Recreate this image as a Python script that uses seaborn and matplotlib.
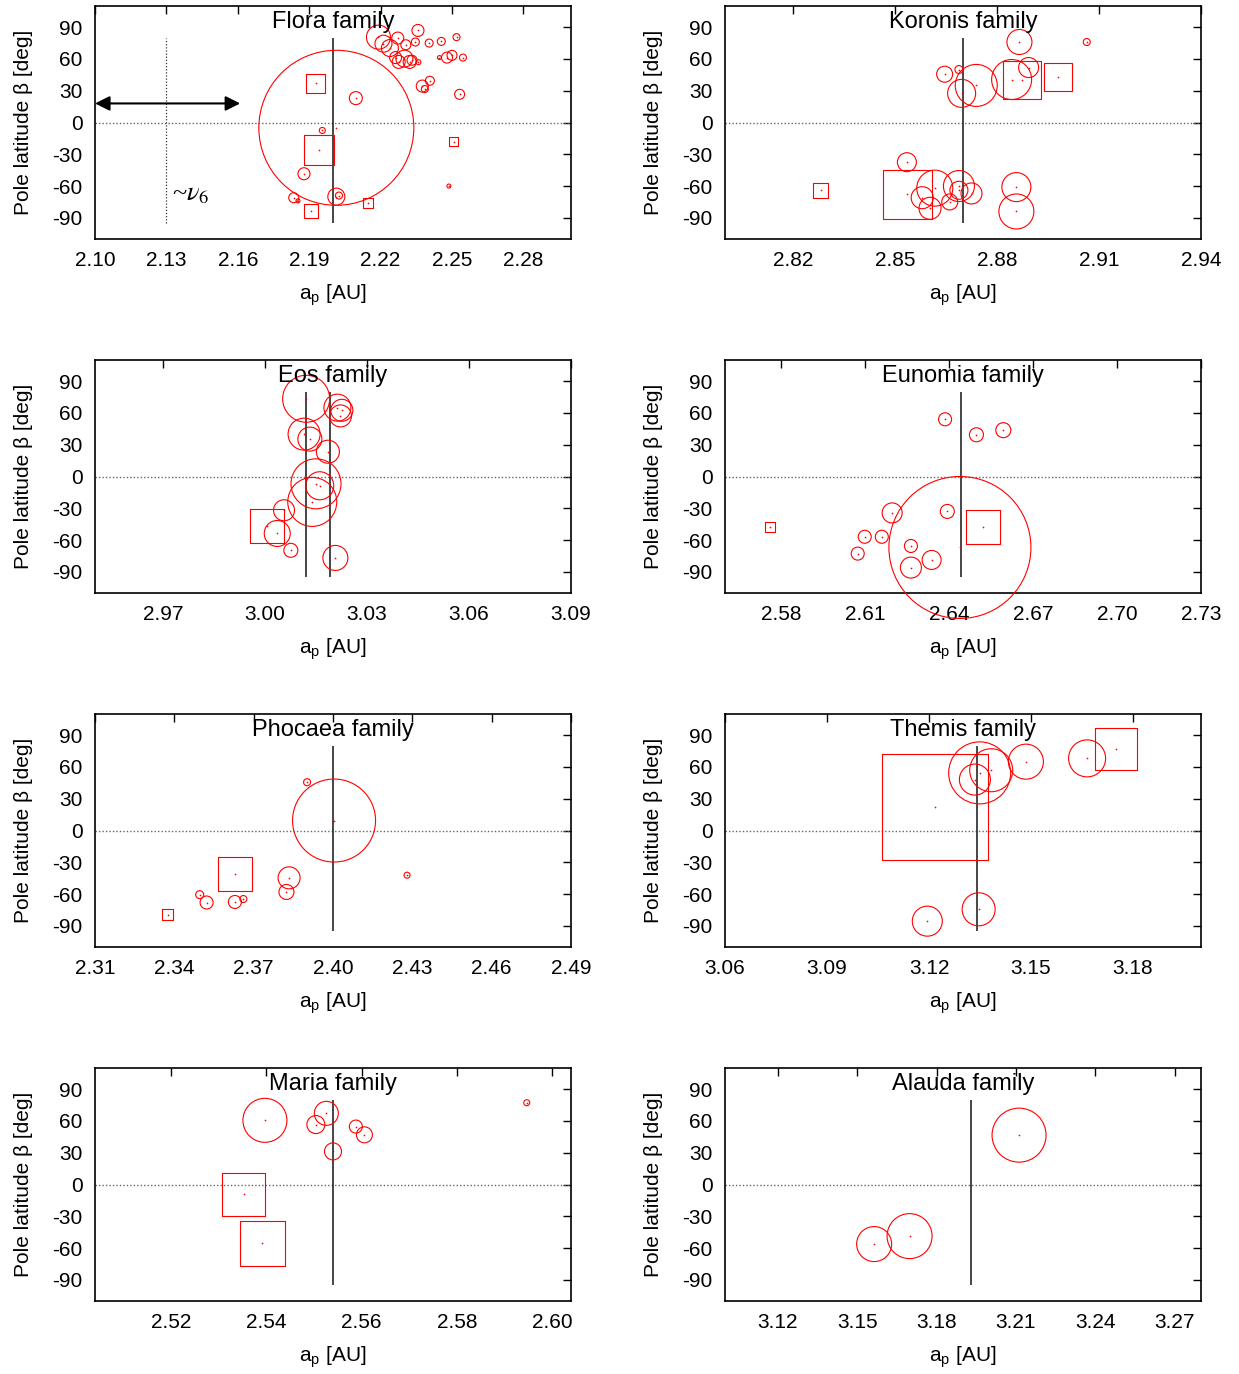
"""
Pole latitude vs proper semimajor axis for eight asteroid families.
Circles / squares sized by object, family centre marked by a vertical line.
"""
import numpy as np
import pandas as pd
import matplotlib
matplotlib.use("Agg")
import matplotlib.pyplot as plt
import seaborn as sns

sns.set_theme(style="white")
plt.rcParams["font.family"] = ["Liberation Sans", "DejaVu Sans"]
plt.rcParams.update({
    "axes.edgecolor": "black",
    "axes.linewidth": 1.2,
    "axes.unicode_minus": False,
    "text.color": "black",
    "axes.labelcolor": "black",
    "xtick.direction": "in",
    "ytick.direction": "in",
    "xtick.top": True,
    "ytick.right": True,
    "xtick.major.size": 6,
    "ytick.major.size": 6,
    "xtick.major.width": 1.0,
    "ytick.major.width": 1.0,
    "xtick.color": "black",
    "ytick.color": "black",
})

# ---- data ----
# Flora
flora_a = [2.2014, 2.2096, 2.1955, 2.1878, 2.1835, 2.1853, 2.2014, 2.2025, 2.2487,
           2.2532, 2.2407, 2.2375, 2.2386, 2.2191, 2.2212, 2.2239, 2.2272, 2.2306,
           2.2357, 2.2346, 2.2404, 2.2455, 2.2519, 2.2263, 2.2276, 2.2300, 2.2322,
           2.2332, 2.2359, 2.2447, 2.2479, 2.2500, 2.2546,
           2.1928, 2.1941, 2.1907, 2.2146, 2.2508]
flora_beta = [-5, 23, -7.5, -48.4, -71, -74, -70, -69, -60,
              26.6, 39.4, 34.4, 31.6, 80.6, 74.4, 70.3, 79.7, 73.4,
              86.9, 76, 75, 76.6, 80.6, 61.3, 57.2, 60.3, 57.2,
              58.8, 56.9, 61.3, 61.3, 63.4, 61.3,
              36.9, -26.3, -84, -76, -18]
flora_size = [155, 13, 6, 12, 10, 4, 17, 7, 4,
              10, 9, 12, 7, 24, 17, 17, 12, 10,
              12, 8, 8, 8, 7, 12, 13, 17, 13,
              10, 5, 4, 11, 10, 7,
              19, 30, 14, 10, 9]
flora_shape = ["o"] * 33 + ["s"] * 5

# Koronis
koronis_a = [2.8866, 2.9064, 2.8646, 2.8688, 2.8739, 2.8696, 2.8843, 2.8893, 2.8535,
             2.8617, 2.8580, 2.8603, 2.8661, 2.8688, 2.8688, 2.8725, 2.8857, 2.8857,
             2.8873, 2.8978, 2.8282, 2.8536]
koronis_beta = [76, 76, 45.6, 50, 35, 27.5, 40.6, 51.9, -37.5,
                -62, -71, -81, -75, -60, -64, -67, -61, -84,
                40.6, 43, -63.8, -67.8]
koronis_size = [25, 7, 16, 8, 42, 28, 40, 20, 19,
                36, 22, 22, 16, 31, 18, 21, 29, 35,
                38, 28, 15, 49]
koronis_shape = ["o"] * 18 + ["s"] * 4

# Eos
eos_a = [3.0121, 3.0213, 3.0226, 3.0222, 3.0115, 3.0132, 3.0185, 3.0150, 3.0161,
         3.0139, 3.0056, 3.0036, 3.0076, 3.0207, 3.0006]
eos_beta = [73.4, 65, 62.5, 57.2, 40, 35.3, 23.4, -6.9, -8.75,
            -24, -31.9, -53.8, -69.7, -76.9, -47.2]
eos_size = [47, 27, 22, 22, 32, 24, 23, 50, 28,
            49, 21, 26, 14, 25, 34]
eos_shape = ["o"] * 14 + ["s"]

# Eunomia
eunomia_a = [2.6386, 2.6498, 2.6594, 2.6197, 2.6394, 2.6099, 2.6160, 2.6074, 2.6264,
             2.6338, 2.6264, 2.6439, 2.6520, 2.5759]
eunomia_beta = [54, 39.4, 43.75, -34.4, -33, -56.9, -56.9, -72.8, -65.6,
                -78.8, -86, -67, -47.5, -47.5]
eunomia_size = [13, 14, 15, 20, 14, 13, 13, 13, 13,
                19, 21, 142, 34, 10]
eunomia_shape = ["o"] * 12 + ["s"] * 2

# Phocaea
phocaea_a = [2.4004, 2.3902, 2.4280, 2.3834, 2.3824, 2.3496, 2.3522, 2.3629, 2.3661,
             2.3629, 2.3375]
phocaea_beta = [9.4, 45.6, -42.2, -44.7, -58, -60.6, -68, -67.5, -64.7,
                -40.9, -79.7]
phocaea_size = [83, 7, 6, 22, 15, 8, 13, 13, 7,
                34, 11]
phocaea_shape = ["o"] * 9 + ["s"] * 2

# Themis
themis_a = [3.1665, 3.1485, 3.1349, 3.1383, 3.1335, 3.1346, 3.1195, 3.1218, 3.1749]
themis_beta = [68.1, 65, 54.4, 56.9, 48.1, -74.4, -85.6, 21.9, 77.2]
themis_size = [37, 35, 62, 43, 31, 33, 30, 106, 42]
themis_shape = ["o"] * 7 + ["s"] * 2

# Maria
maria_a = [2.5397, 2.5526, 2.5504, 2.5588, 2.5606, 2.5540, 2.5947, 2.5353, 2.5391]
maria_beta = [60.6, 67.2, 56.6, 54.7, 46.9, 31.25, 77.2, -9.4, -55.3]
maria_size = [44, 24, 18, 13, 16, 17, 6, 43, 45]
maria_shape = ["o"] * 7 + ["s"] * 2

# Alauda
alauda_a = [3.2112, 3.1698, 3.1564]
alauda_beta = [46.6, -48.75, -56.25]
alauda_size = [54, 45, 35]
alauda_shape = ["o"] * 3

# family centres (vertical lines)
centres = {
    "Flora": [2.200], "Koronis": [2.870], "Eos": [3.012, 3.019],
    "Eunomia": [2.6442], "Phocaea": [2.400], "Themis": [3.134],
    "Maria": [2.5541], "Alauda": [3.193],
}
xlims = {
    "Flora": (2.10, 2.30), "Koronis": (2.80, 2.94), "Eos": (2.95, 3.09),
    "Eunomia": (2.56, 2.73), "Phocaea": (2.31, 2.49), "Themis": (3.06, 3.20),
    "Maria": (2.504, 2.604), "Alauda": (3.10, 3.28),
}
xticks = {
    "Flora": [2.10, 2.13, 2.16, 2.19, 2.22, 2.25, 2.28],
    "Koronis": [2.82, 2.85, 2.88, 2.91, 2.94],
    "Eos": [2.97, 3.00, 3.03, 3.06, 3.09],
    "Eunomia": [2.58, 2.61, 2.64, 2.67, 2.70, 2.73],
    "Phocaea": [2.31, 2.34, 2.37, 2.40, 2.43, 2.46, 2.49],
    "Themis": [3.06, 3.09, 3.12, 3.15, 3.18],
    "Maria": [2.52, 2.54, 2.56, 2.58, 2.60],
    "Alauda": [3.12, 3.15, 3.18, 3.21, 3.24, 3.27],
}
yticks = [-90, -60, -30, 0, 30, 60, 90]

# nu6 resonance marker in the Flora panel
nu6_a = 2.13
nu6_arrow = (2.10, 2.161)
nu6_arrow_beta = 18

families = [
    ("Flora", flora_a, flora_beta, flora_size, flora_shape),
    ("Koronis", koronis_a, koronis_beta, koronis_size, koronis_shape),
    ("Eos", eos_a, eos_beta, eos_size, eos_shape),
    ("Eunomia", eunomia_a, eunomia_beta, eunomia_size, eunomia_shape),
    ("Phocaea", phocaea_a, phocaea_beta, phocaea_size, phocaea_shape),
    ("Themis", themis_a, themis_beta, themis_size, themis_shape),
    ("Maria", maria_a, maria_beta, maria_size, maria_shape),
    ("Alauda", alauda_a, alauda_beta, alauda_size, alauda_shape),
]

FS = 15
PX2PT = 0.72  # dpi 100


def panel(ax, name, a, beta, size, shape):
    df = pd.DataFrame({"a": a, "beta": beta, "size": size, "shape": shape})
    ax.axhline(0, color="0.4", ls=(0, (1, 1.5)), lw=1.0, zorder=1)
    ax.vlines(centres[name], -95, 80, color="0.15", lw=1.2, zorder=2)
    for m in ["o", "s"]:
        sub = df[df["shape"] == m]
        if len(sub) == 0:
            continue
        sns.scatterplot(data=sub, x="a", y="beta", marker=m,
                        s=((sub["size"] * PX2PT) ** 2).to_numpy(),
                        facecolor="none", edgecolor="red", linewidth=0.8,
                        ax=ax, legend=False, zorder=3, clip_on=False)
    # centre dots
    sns.scatterplot(data=df, x="a", y="beta", s=1.5, color="red",
                    linewidth=0, ax=ax, legend=False, zorder=4)

    ax.set_xlim(*xlims[name])
    ax.set_ylim(-110, 110)
    ax.set_xticks(xticks[name])
    ax.set_xticklabels([f"{t:.2f}" for t in xticks[name]])
    ax.set_yticks(yticks)
    ax.tick_params(labelsize=FS, pad=9)
    ax.set_xlabel(r"a$_\mathregular{p}$ [AU]", fontsize=FS)
    ax.set_ylabel("Pole latitude β [deg]", fontsize=FS)
    ax.xaxis.set_label_coords(0.5, -0.185)
    ax.yaxis.set_label_coords(-0.13, 0.5)
    ax.text(0.5, 0.93, f"{name} family", transform=ax.transAxes,
            ha="center", va="center", fontsize=17, zorder=5)
    for s in ax.spines.values():
        s.set_visible(True)


fig = plt.figure(figsize=(12.39, 13.74), dpi=100)
lefts = [95 / 1239, 725 / 1239]
width = 476 / 1239
height = 233 / 1374
tops = [6, 360, 714, 1068]

for i, (name, a, beta, size, shape) in enumerate(families):
    row, col = divmod(i, 2)
    bottom = 1 - (tops[row] + 233) / 1374
    ax = fig.add_axes([lefts[col], bottom, width, height])
    panel(ax, name, a, beta, size, shape)
    if name == "Flora":
        ax.vlines(nu6_a, -95, 80, color="0.2", lw=0.9, ls=(0, (1, 1.5)), zorder=1)
        ax.annotate("", xy=(nu6_arrow[0], nu6_arrow_beta),
                    xytext=(nu6_arrow[1], nu6_arrow_beta),
                    arrowprops=dict(arrowstyle="<|-|>", color="black", lw=1.5,
                                    mutation_scale=22, shrinkA=0, shrinkB=0))
        ax.text(nu6_a + 0.0025, -68, r"~$\nu_6$", family="Liberation Serif",
                math_fontfamily="stix", fontsize=19, ha="left", va="center")

fig.savefig("out.png", dpi=100)
